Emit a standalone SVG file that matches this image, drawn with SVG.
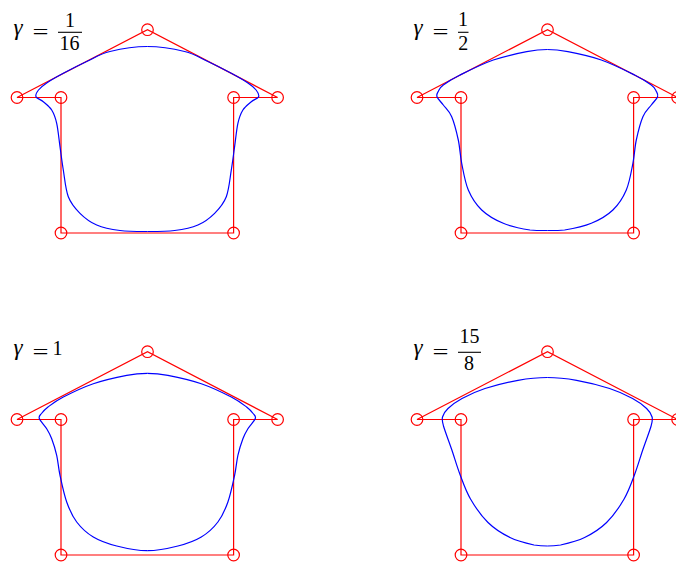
<svg xmlns="http://www.w3.org/2000/svg" width="676" height="565" viewBox="0 0 676 565">
<style>
.poly{fill:none;stroke:#ff0000;stroke-width:1.2}
.cp{fill:none;stroke:#ff0000;stroke-width:1.2}
.crv{fill:none;stroke:#0000ff;stroke-width:1.2}
.t{font-family:"Liberation Serif","DejaVu Serif",serif;font-size:20px;fill:#000}
.g{font-style:italic;font-size:23px}
.bar{stroke:#000;stroke-width:1.1}
</style>
<defs>
<g id="ctrl">
<polygon class="poly" points="61,233 61,97.5 17,97.5 147.5,29.7 277.6,97.5 233.6,97.5 233.6,233"/>
<circle class="cp" cx="17" cy="97.5" r="5.8"/>
<circle class="cp" cx="61" cy="97.5" r="5.8"/>
<circle class="cp" cx="147.5" cy="29.7" r="5.8"/>
<circle class="cp" cx="233.6" cy="97.5" r="5.8"/>
<circle class="cp" cx="277.6" cy="97.5" r="5.8"/>
<circle class="cp" cx="61" cy="233" r="5.8"/>
<circle class="cp" cx="233.6" cy="233" r="5.8"/>
</g>
<path id="h1" class="crv" d="M147.3,46.5 C134.87,46.5 120.1,49 110,51.5 C99.9,54 94.48,57.87 86.7,61.5 C78.92,65.13 69.97,69.72 63.3,73.3 C56.63,76.88 50.83,80.22 46.7,83 C42.57,85.78 40.28,87.72 38.5,90 C36.72,92.28 35.2,94.75 36,96.7 C36.8,98.65 40.68,99.48 43.3,101.7 C45.92,103.920 49.47,106.4 51.7,110 C53.93,113.6 55.32,117.18 56.7,123.3 C58.08,129.42 58.9,138.92 60,146.7 C61.1,154.48 61.92,161.67 63.3,170 C64.68,178.33 65.52,189.48 68.3,196.7 C71.08,203.92 75.27,208.58 80,213.3 C84.73,218.02 90.03,222.13 96.7,225 C103.37,227.87 111.57,229.42 120,230.5 C128.43,231.58 138.2,231.5 147.3,231.5"/>
<path id="h2" class="crv" d="M147.3,49.5 C140.43,49.5 135.7,49.95 126.7,51.7 C117.7,53.45 104.42,56.12 93.3,60 C82.18,63.88 68.33,70.83 60,75 C51.67,79.17 46.88,82.33 43.3,85 C39.72,87.67 39.55,89.05 38.5,91 C37.45,92.95 36.2,94.37 37,96.7 C37.8,99.03 40.85,101.67 43.3,105 C45.75,108.33 49.2,110.87 51.7,116.7 C54.2,122.53 56.63,132.23 58.3,140 C59.97,147.77 60.03,154.97 61.7,163.3 C63.37,171.63 64.97,182.22 68.3,190 C71.63,197.78 75.87,204.45 81.7,210 C87.53,215.55 95.25,219.97 103.3,223.3 C111.35,226.63 122.67,228.8 130,230 C137.33,230.6 141.53,230.5 147.3,230.5"/>
<path id="h3" class="crv" d="M147.3,51.3 C140.43,51.3 135.7,51.57 126.7,53.3 C117.7,55.03 103.87,58.08 93.3,61.7 C82.73,65.32 70.85,71.12 63.3,75 C55.75,78.88 51.63,82.25 48,85 C44.37,87.75 42.95,89.58 41.5,91.5 C40.05,93.42 38.43,93.97 39.3,96.5 C40.17,99.03 44.63,103.33 46.7,106.7 C48.77,110.07 50.03,112.27 51.7,116.7 C53.37,121.13 55.32,127.2 56.7,133.3 C58.08,139.4 58.33,145.52 60,153.3 C61.67,161.08 63.92,172.22 66.7,180 C69.48,187.78 72.27,194.17 76.7,200 C81.13,205.83 86.63,211 93.3,215 C99.97,219 107.7,221.72 116.7,224 C125.7,226.28 137.1,228.7 147.3,228.7"/>
<path id="h4" class="crv" d="M147.3,55.5 C137.53,55.5 128.38,56.47 118,58.3 C107.62,60.13 94.33,63.47 85,66.5 C75.67,69.53 68.17,73.17 62,76.5 C55.83,79.83 51.25,83.42 48,86.5 C44.75,89.58 43.25,92.08 42.5,95 C41.75,97.92 41.97,98.58 43.5,104 C45.03,109.42 48.95,119.42 51.7,127.5 C54.45,135.58 56.87,144.25 60,152.5 C63.13,160.75 65.83,169 70.5,177 C75.17,185 81.42,194.08 88,200.5 C94.58,206.92 102.33,211.75 110,215.5 C117.67,219.25 127.78,221.58 134,223 C140.22,223.9 142.87,224 147.3,224"/>
</defs>

<g id="panel-1">
<use href="#ctrl"/>
<g id="curve-1"><use href="#h1"/><use href="#h1" transform="translate(294.6,0) scale(-1,1)"/></g>
<g id="label-1">
<text class="t g" x="13.5" y="35">γ</text>
<text class="t" x="32.5" y="38.5" textLength="16" lengthAdjust="spacingAndGlyphs">=</text>
<text class="t" x="70" y="27" text-anchor="middle">1</text>
<line class="bar" x1="58" y1="32.3" x2="82" y2="32.3"/>
<text class="t" x="69.5" y="50" text-anchor="middle">16</text>
</g>
</g>

<g id="panel-2" transform="translate(400,0)">
<use href="#ctrl"/>
<g id="curve-2"><use href="#h2"/><use href="#h2" transform="translate(294.6,0) scale(-1,1)"/></g>
<g id="label-2">
<text class="t g" x="13.5" y="35">γ</text>
<text class="t" x="32.5" y="38.5" textLength="16" lengthAdjust="spacingAndGlyphs">=</text>
<text class="t" x="63" y="26" text-anchor="middle">1</text>
<line class="bar" x1="58" y1="32.3" x2="68.5" y2="32.3"/>
<text class="t" x="63.3" y="50" text-anchor="middle">2</text>
</g>
</g>

<g id="panel-3" transform="translate(0,322)">
<use href="#ctrl"/>
<g id="curve-3"><use href="#h3"/><use href="#h3" transform="translate(294.6,0) scale(-1,1)"/></g>
<g id="label-3">
<text class="t g" x="13.5" y="33">γ</text>
<text class="t" x="32.5" y="36.5" textLength="16" lengthAdjust="spacingAndGlyphs">=</text>
<text class="t" x="57.5" y="33" text-anchor="middle">1</text>
</g>
</g>

<g id="panel-4" transform="translate(400,322)">
<use href="#ctrl"/>
<g id="curve-4"><use href="#h4"/><use href="#h4" transform="translate(294.6,0) scale(-1,1)"/></g>
<g id="label-4">
<text class="t g" x="13.5" y="33">γ</text>
<text class="t" x="32.5" y="36.5" textLength="16" lengthAdjust="spacingAndGlyphs">=</text>
<text class="t" x="69.5" y="21" text-anchor="middle">15</text>
<line class="bar" x1="58" y1="30.3" x2="81" y2="30.3"/>
<text class="t" x="69" y="48" text-anchor="middle">8</text>
</g>
</g>
</svg>
